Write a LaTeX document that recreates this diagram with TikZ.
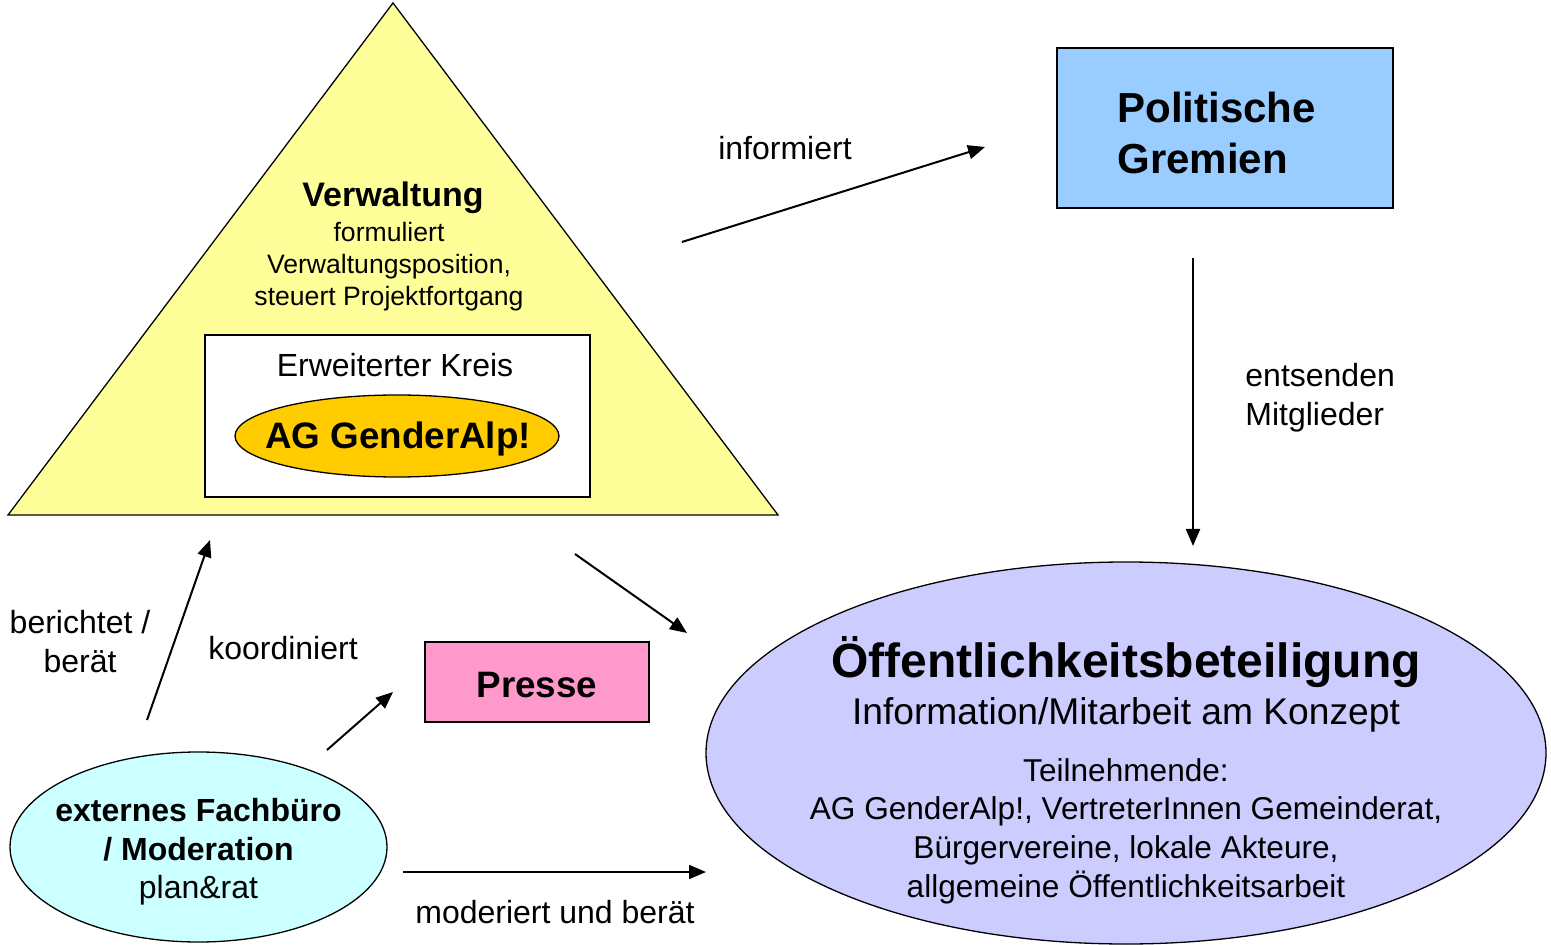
\documentclass[tikz,border=0pt]{standalone}
\usepackage{fontspec}
\setmainfont{Liberation Sans}
\usetikzlibrary{arrows.meta,shapes.geometric}
\definecolor{triyellow}{HTML}{FFFF99}
\definecolor{agorange}{HTML}{FFCC00}
\definecolor{polblue}{HTML}{99CCFF}
\definecolor{pressepink}{HTML}{FF99CC}
\definecolor{oefflav}{HTML}{CCCCFF}
\definecolor{extcyan}{HTML}{CCFFFF}
\begin{document}
\begin{tikzpicture}[x=0.5pt,y=-0.5pt,
  shapeline/.style={draw=black,line width=0.65pt},
  conn/.style={line width=1pt,-{Triangle[length=8.5pt,width=7pt]}},
  lbl/.style={inner sep=0pt,align=center,font=\fontsize{16}{19.5}\selectfont},
  small/.style={inner sep=0pt,align=center,font=\fontsize{13.3}{16}\selectfont},
  boxnode/.style={shapeline,rectangle,inner sep=0pt},
  ellnode/.style={shapeline,ellipse,inner sep=0pt},
]
\useasboundingbox (0,0) rectangle (1551,945);

% Verwaltung triangle
\coordinate (apex) at (393,3);
\coordinate (bl) at (8,515);
\coordinate (br) at (778,515);
\filldraw[shapeline,fill=triyellow] (apex) -- (br) -- (bl) -- cycle;
\node[inner sep=0pt,font=\fontsize{17}{20}\selectfont\bfseries] (verw) at (393,198) {Verwaltung};
\node[small] (verwtxt) at (389,267) {formuliert\\Verwaltungsposition,\\steuert Projektfortgang};

% Erweiterter Kreis
\node[boxnode,fill=white,minimum width=192.5pt,minimum height=81pt] (kreis) at (397.5,416) {};
\node[lbl] (kreistxt) at (395,365) {Erweiterter Kreis};
\node[ellnode,fill=agorange,minimum width=162pt,minimum height=41pt] (ag) at (397,436) {};
\node[inner sep=0pt,font=\fontsize{18.4}{22}\selectfont\bfseries] (agtxt) at (398,439) {AG GenderAlp!};

% Politische Gremien
\node[boxnode,fill=polblue,minimum width=168pt,minimum height=80pt] (pol) at (1225,128) {};
\node[inner sep=0pt,anchor=west,align=left,font=\fontsize{21}{25.5}\selectfont\bfseries] (poltxt) at (1117,133) {Politische\\Gremien};

% Presse
\node[boxnode,fill=pressepink,minimum width=112pt,minimum height=40pt] (presse) at (537,682) {};
\node[inner sep=0pt,font=\fontsize{18.4}{22}\selectfont\bfseries] (pressetxt) at (537,685) {Presse};

% Oeffentlichkeitsbeteiligung
\node[ellnode,fill=oefflav,minimum width=420pt,minimum height=191pt] (oeff) at (1126,753) {};
\node[inner sep=0pt,font=\fontsize{24}{28}\selectfont\bfseries] (oefftitle) at (1126,662) {Öffentlichkeitsbeteiligung};
\node[inner sep=0pt,font=\fontsize{18.6}{22}\selectfont] (oeffsub) at (1126,715) {Information/Mitarbeit am Konzept};
\node[inner sep=0pt,align=center,font=\fontsize{15.8}{19.35}\selectfont] (oefftxt) at (1126,831)
  {Teilnehmende:\\AG GenderAlp!, VertreterInnen Gemeinderat,\\Bürgervereine, lokale Akteure,\\allgemeine Öffentlichkeitsarbeit};

% externes Fachbuero
\node[ellnode,fill=extcyan,minimum width=188.5pt,minimum height=95pt] (ext) at (198.5,847) {};
\node[inner sep=0pt,align=center,font=\fontsize{16}{19.3}\selectfont] (exttxt) at (198.5,852)
  {\textbf{externes Fachbüro}\\\textbf{/ Moderation}\\plan\&rat};

% connectors (free-floating in the reference)
\coordinate (infA) at (682,242);  \coordinate (infB) at (985,147);
\coordinate (entA) at (1193,258); \coordinate (entB) at (1193,546);
\coordinate (triA) at (575,554);  \coordinate (triB) at (687,633);
\coordinate (berA) at (147,720);  \coordinate (berB) at (210,540);
\coordinate (korA) at (327,750);  \coordinate (korB) at (393,692);
\coordinate (modA) at (403,872);  \coordinate (modB) at (706,872);
\draw[conn] (infA) -- (infB);
\draw[conn] (entA) -- (entB);
\draw[conn] (triA) -- (triB);
\draw[conn] (berA) -- (berB);
\draw[conn] (korA) -- (korB);
\draw[conn] (modA) -- (modB);

% connector labels
\node[lbl] (inflbl) at (785,148) {informiert};
\node[lbl,align=left,anchor=west] (entlbl) at (1245,398) {entsenden\\Mitglieder};
\node[lbl] (berlbl) at (80,642) {berichtet /\\berät};
\node[lbl] (korlbl) at (283,648) {koordiniert};
\node[lbl] (modlbl) at (555,912) {moderiert und berät};
\end{tikzpicture}
\end{document}
